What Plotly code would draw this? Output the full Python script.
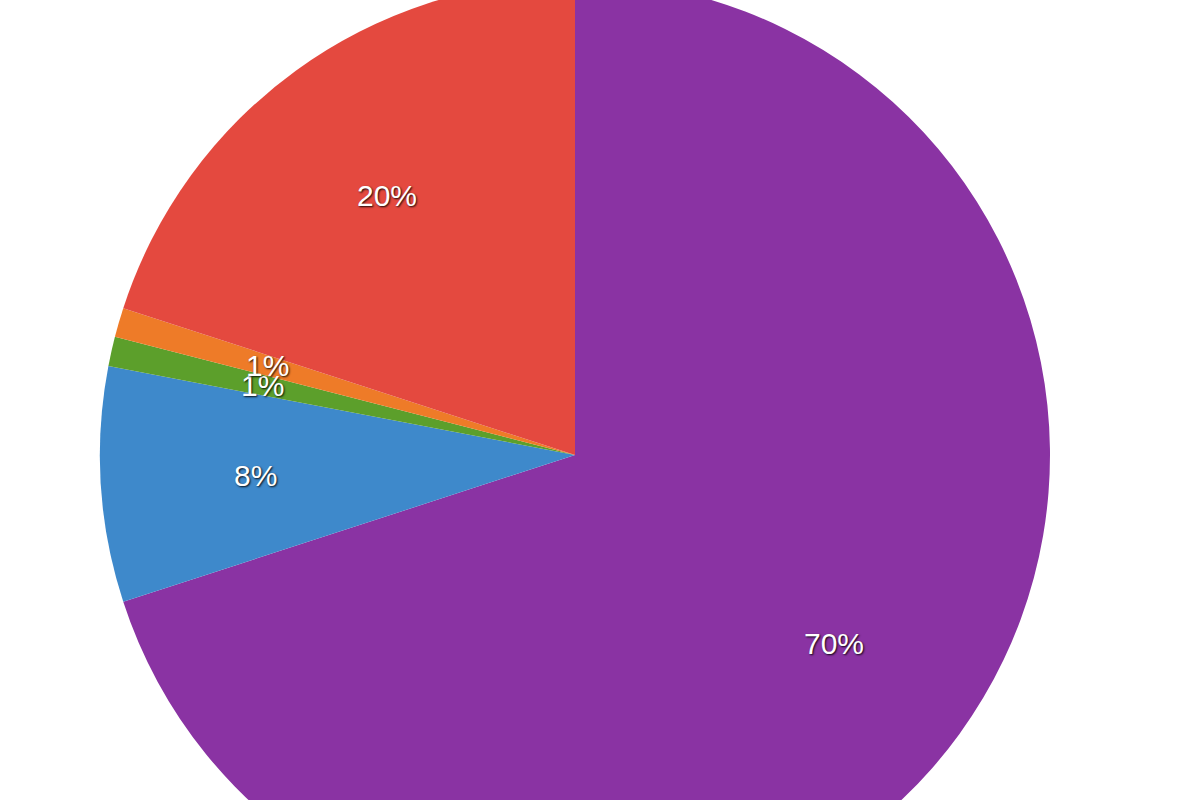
import math
import plotly.graph_objects as go

labels = ["Purple", "Blue", "Green", "Orange", "Red"]
values = [70, 8, 1, 1, 20]
colors = ["#8a33a3", "#3e89cb", "#5c9f2b", "#ee7b28", "#e4493f"]

W, H = 1150, 950
R_PX = min(W, H) / 2
LABEL_FRAC = 0.675

fig = go.Figure(go.Pie(
    labels=labels,
    values=values,
    sort=False,
    direction="clockwise",
    rotation=0,
    marker=dict(colors=colors, line=dict(width=0)),
    textinfo="none",
    showlegend=False,
    hoverinfo="label+percent",
    domain=dict(x=[0, 1], y=[0, 1]),
))

total = sum(values)
cum = 0.0
annotations = []
for v in values:
    mid = (cum + v / 2) / total * 2 * math.pi
    cum += v
    ax = 0.5 + LABEL_FRAC * R_PX * math.sin(mid) / W
    ay = 0.5 + LABEL_FRAC * R_PX * math.cos(mid) / H
    annotations.append(dict(
        x=ax, y=ay, xref="paper", yref="paper",
        text=f"{round(v / total * 100)}%",
        showarrow=False, xanchor="center", yanchor="middle",
        font=dict(family="Liberation Sans, Arial, sans-serif", size=30, color="white",
                  shadow="1px 1px 2px rgba(0,0,0,0.9)"),
    ))

fig.update_layout(
    width=W,
    height=H,
    margin=dict(l=0, r=0, t=0, b=0),
    paper_bgcolor="white",
    plot_bgcolor="white",
    annotations=annotations,
)

post = (
    "document.body.style.margin='0';"
    "document.body.style.overflow='hidden';"
    "var d=document.getElementById('{plot_id}');"
    "d.style.position='absolute';d.style.left='0px';d.style.top='-20px';"
)
fig.write_html("out.html", post_script=post, config={"displayModeBar": False})
